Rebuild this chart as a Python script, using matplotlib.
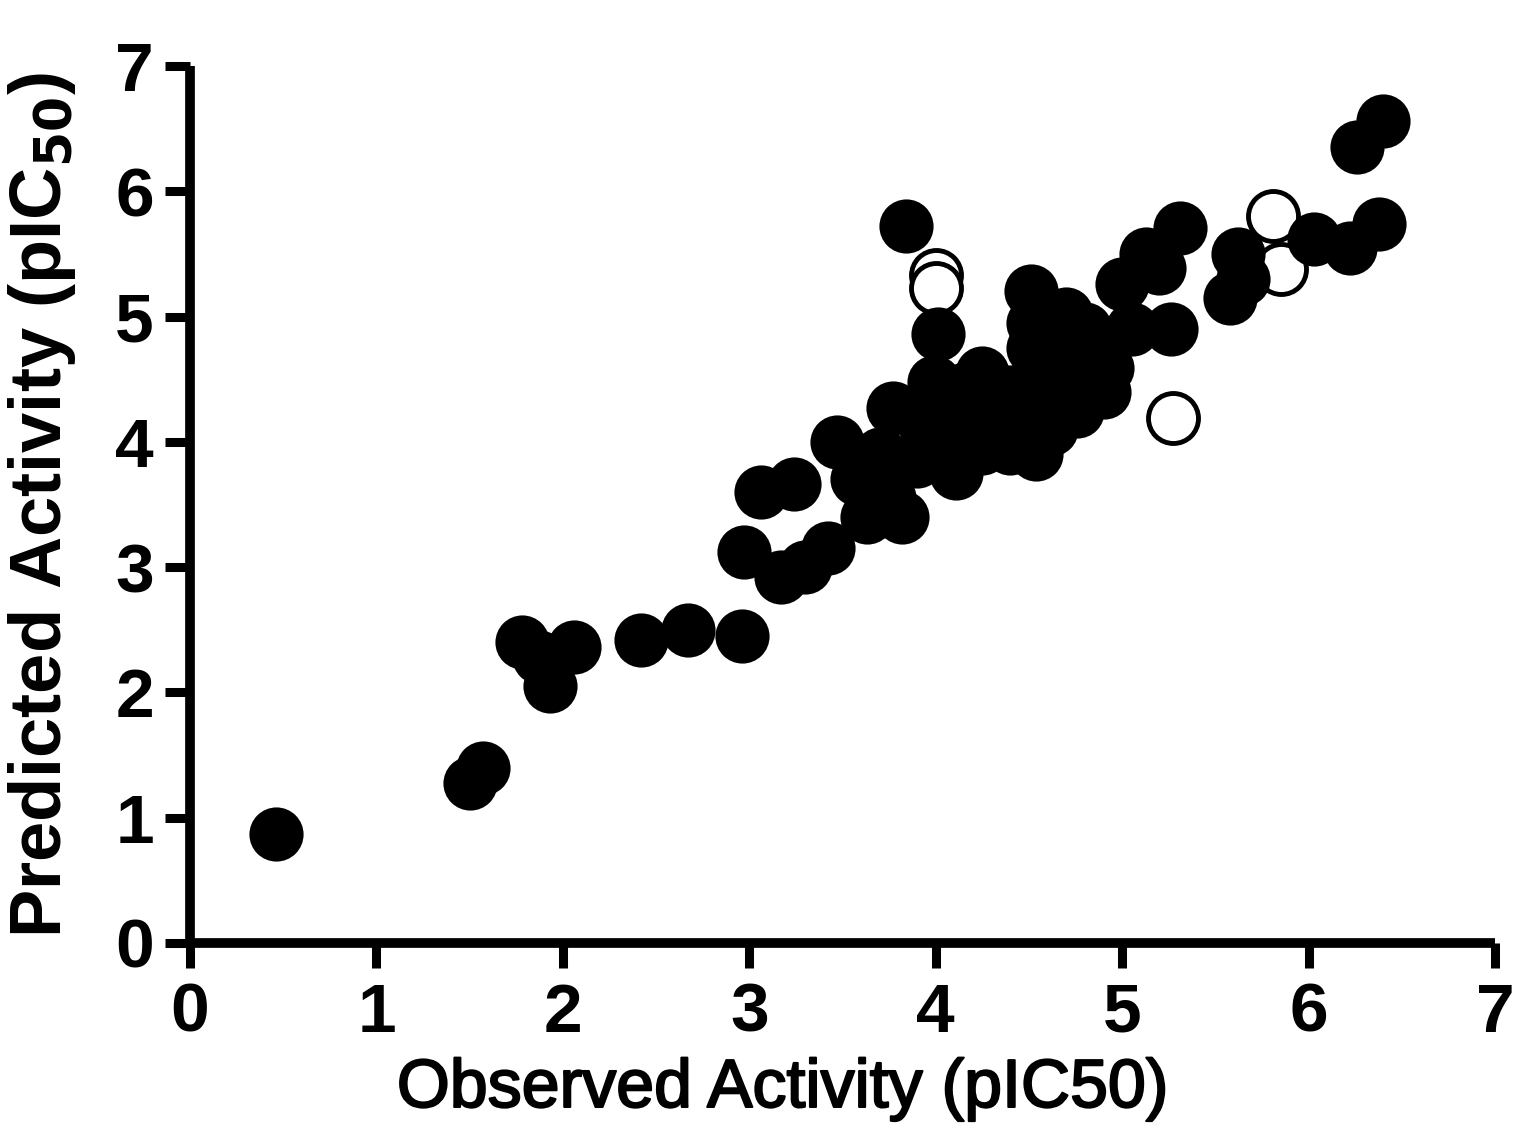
import numpy as np
import matplotlib
matplotlib.use("Agg")
import matplotlib.pyplot as plt
import matplotlib.patheffects as pe

plt.rcParams['font.family'] = ['Liberation Sans', 'DejaVu Sans']

# training set (filled)
obs_train = [0.46, 1.50, 1.57, 1.78, 1.87, 1.93, 2.06, 2.42, 2.67, 2.96,
             2.97, 3.06, 3.17, 3.24, 3.30, 3.42, 3.47, 3.58, 3.63, 3.75,
             3.82, 3.77, 3.84, 3.95, 3.99, 4.01, 4.05, 4.11, 4.17, 4.25,
             4.25, 4.35, 4.40, 4.51, 4.52, 4.54, 4.60, 4.65, 4.70, 4.70,
             4.76, 4.80, 4.87, 4.92, 5.00, 5.05, 5.13, 5.20, 5.26, 5.31,
             5.58, 5.62, 5.65, 6.03, 6.22, 6.38, 6.26, 6.40,
             4.30, 4.45, 4.62, 4.55, 4.52, 4.80, 4.90, 4.15, 4.40, 4.30,
             3.70, 3.90, 3.70]
pred_train = [0.87, 1.28, 1.40, 2.40, 2.28, 2.05, 2.36, 2.42, 2.50, 2.45,
              3.12, 3.60, 2.92, 3.66, 3.00, 3.15, 4.00, 3.70, 3.40, 3.55,
              3.40, 4.27, 5.72, 4.10, 4.48, 4.86, 4.20, 3.75, 4.43, 3.95,
              4.55, 4.22, 4.40, 5.20, 4.75, 3.90, 4.45, 4.90, 4.62, 5.02,
              4.25, 4.70, 4.72, 4.59, 5.26, 4.90, 5.50, 5.39, 4.90, 5.71,
              5.15, 5.50, 5.30, 5.62, 5.55, 5.74, 6.35, 6.56,
              4.40, 4.20, 4.10, 4.55, 4.95, 4.90, 4.40, 4.05, 3.95, 4.05,
              3.90, 3.85, 3.45]

# test set (open)
obs_test = [4.00, 4.00, 5.81, 5.85, 5.27]
pred_test = [5.33, 5.23, 5.80, 5.38, 4.19]

fig = plt.figure(figsize=(15.2, 11.32), dpi=100)
ax = fig.add_axes([0.125, 0.167, 0.8586, 0.7747])

ax.scatter(obs_test, pred_test, s=36**2, facecolor='white', edgecolor='black',
           linewidth=3.5, zorder=2, clip_on=False)
ax.scatter(obs_train, pred_train, s=39**2, color='black', linewidth=0,
           zorder=3, clip_on=False)

ax.set_xlim(0, 7)
ax.set_ylim(0, 7)
ax.set_xticks(range(8))
ax.set_yticks(range(8))

for side in ['top', 'right']:
    ax.spines[side].set_visible(False)
for side in ['left', 'bottom']:
    ax.spines[side].set_linewidth(7)
    ax.spines[side].set_capstyle('butt')

ax.tick_params(axis='both', direction='out', length=18, width=6.5,
               labelsize=50)
ax.tick_params(axis='x', pad=10)
ax.tick_params(axis='y', pad=8)
for lbl in ax.get_xticklabels() + ax.get_yticklabels():
    lbl.set_fontweight('bold')

xl = ax.set_xlabel('Observed Activity (pIC50)', fontsize=49)
xl.set_path_effects([pe.withStroke(linewidth=1.5, foreground='black')])
ax.xaxis.set_label_coords(0.454, -0.13)
ax.set_ylabel(r'Predicted Activity (pIC$_{\mathbf{50}}$)', fontsize=52,
              fontweight='bold')
ax.yaxis.set_label_coords(-0.086, 0.5)

fig.savefig('out.png', dpi=100)
